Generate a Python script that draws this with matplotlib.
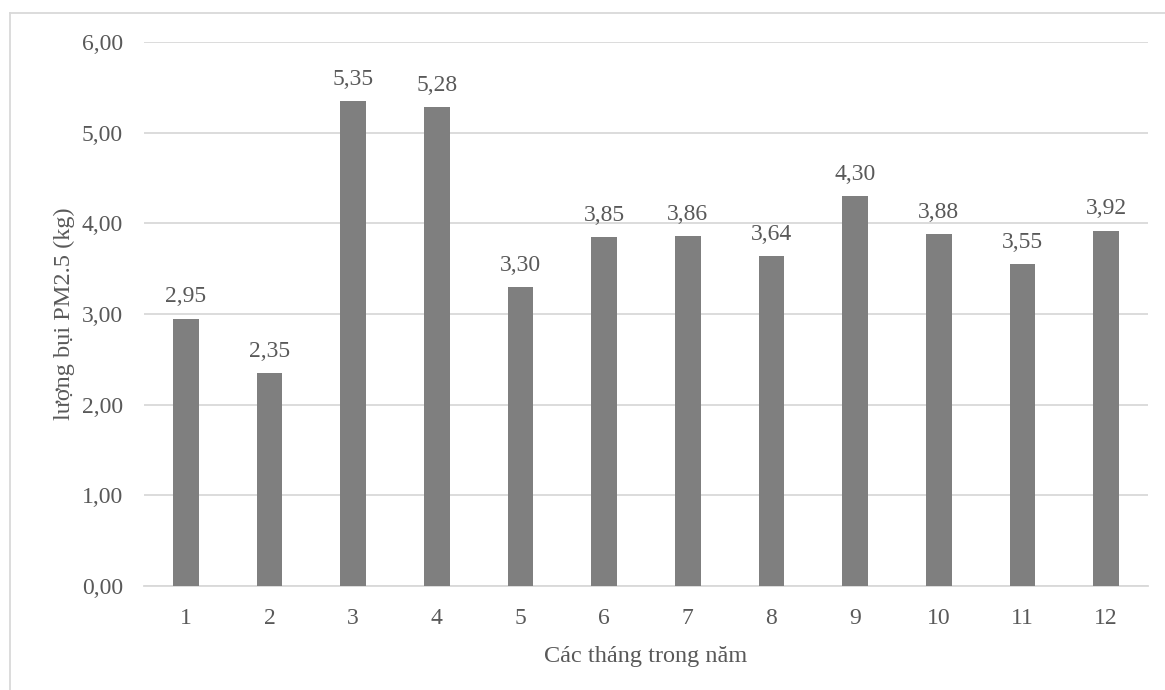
import matplotlib.pyplot as plt  # vẽ biểu đồ
from matplotlib.lines import Line2D  # viền khung

# dữ liệu
thang = ["1", "2", "3", "4", "5", "6", "7", "8", "9", "10", "11", "12"]
pm25 = [2.95, 2.35, 5.35, 5.28, 3.30, 3.85, 3.86, 3.64, 4.30, 3.88, 3.55, 3.92]
yticks = [0, 1, 2, 3, 4, 5, 6]

plt.rcParams["font.family"] = ["Liberation Serif", "DejaVu Serif"]
mau_chu = "#595959"

fig = plt.figure(figsize=(11.65, 6.9), dpi=100)
ax = fig.add_axes([144 / 1165, 1 - 586 / 690, (1148 - 144) / 1165, (586 - 42) / 690])

x = list(range(len(thang)))
bars = ax.bar(x, pm25, width=0.31, color="#7f7f7f", zorder=3)
for b, v in zip(bars, pm25):
    ax.annotate(f"{v:.2f}".replace(".", ","), (b.get_x() + b.get_width() / 2, v),
                xytext=(0, 8), textcoords="offset points",
                ha="center", va="bottom", fontsize=17, color=mau_chu)

ax.set_xlim(-0.5, len(thang) - 0.5)
ax.set_ylim(0, 6)
ax.set_yticks(yticks)
ax.set_yticklabels([f"{t:.2f}".replace(".", ",") for t in yticks])
ax.set_xticks(x)
ax.set_xticklabels(thang)
ax.tick_params(axis="both", length=0, labelsize=17, labelcolor=mau_chu)
ax.tick_params(axis="y", pad=15)
ax.tick_params(axis="x", pad=16)
ax.grid(axis="y", color="#d9d9d9", linewidth=1.3, zorder=0)
for s in ["top", "right", "left"]:
    ax.spines[s].set_visible(False)
ax.spines["bottom"].set_color("#d9d9d9")
ax.spines["bottom"].set_linewidth(1.3)

ax.set_xlabel("Các tháng trong năm", fontsize=17.5, color=mau_chu, labelpad=12)
ax.set_ylabel("lượng bụi PM2.5 (kg)", fontsize=17.5, color=mau_chu, labelpad=5)

# viền ngoài của biểu đồ
fig.add_artist(Line2D([10 / 1165, 10 / 1165], [0, 1 - 13 / 690], transform=fig.transFigure,
                      color="#d9d9d9", linewidth=1.3))
fig.add_artist(Line2D([10 / 1165, 1], [1 - 13 / 690, 1 - 13 / 690], transform=fig.transFigure,
                      color="#d9d9d9", linewidth=1.3))

fig.savefig("out.png", dpi=100)
